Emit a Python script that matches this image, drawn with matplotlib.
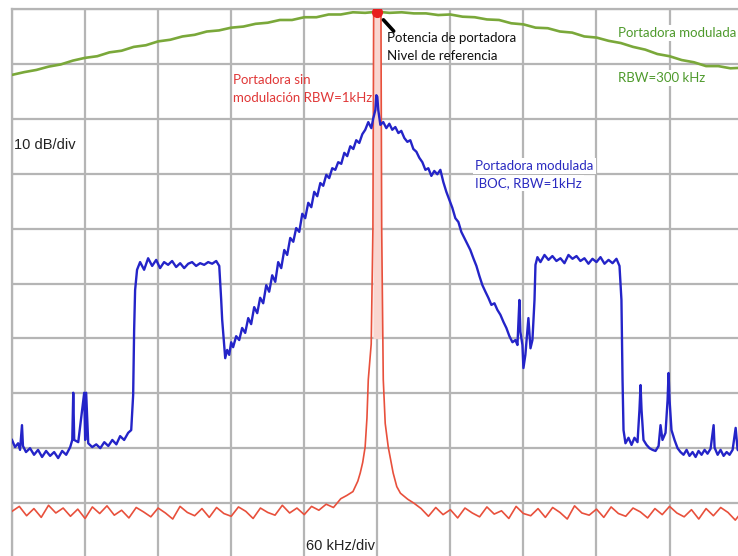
import numpy as np
import matplotlib.pyplot as plt

# Spectrum analyzer capture: 60 kHz/div, 10 dB/div, reference level 0 dB at the top
green_khz = [-300, -290, -280, -270, -260, -250, -240, -230, -220, -210, -200, -190, -180, -170, -160,
             -150, -140, -130, -120, -110, -100, -90, -80, -70, -60, -50, -40, -30, -20, -10, 0,
             10, 20, 30, 40, 50, 60, 70, 80, 90, 100, 110, 120, 130, 140, 150, 160, 170, 180,
             190, 200, 210, 220, 230, 240, 250, 260, 270, 280, 290, 300]
green_db = [-12.0, -11.5, -11.1, -10.5, -10.1, -9.4, -8.9, -8.6, -7.9, -7.6, -6.9, -6.6, -5.9, -5.6, -5.0,
            -4.7, -4.1, -3.9, -3.4, -3.2, -2.7, -2.5, -2.0, -2.0, -1.5, -1.5, -1.0, -1.0, -0.6, -0.7, -0.5,
            -0.7, -0.6, -0.8, -0.8, -1.1, -1.0, -1.4, -1.5, -1.9, -2.0, -2.6, -2.8, -3.4, -3.5, -4.1,
            -4.3, -5.0, -5.2, -5.8, -6.2, -6.9, -7.4, -8.2, -8.6, -9.3, -9.7, -10.4, -10.4, -10.8, -10.7]

red_khz = [-300, -294, -288, -282, -276, -270, -264, -258, -252, -246, -240, -234, -228, -222, -216,
           -210, -204, -198, -192, -186, -180, -174, -168, -162, -156, -150, -144, -138, -132, -126,
           -120, -114, -108, -102, -96, -90, -84, -78, -72, -66, -60, -54, -48, -42, -36,
           -30, -25, -20, -16, -14, -12, -10, -8.5, -7.4, -5, -3.6, -3.0, 0, 3.0, 3.6, 4.9, 6.5,
           9, 13, 16, 19, 25, 30,
           36, 42, 48, 54, 60, 66, 72, 78, 84, 90, 96, 102, 108, 114, 120, 126, 132, 138, 144,
           150, 156, 162, 168, 174, 180, 186, 192, 198, 204, 210, 216, 222, 228, 234, 240, 246,
           252, 258, 264, 270, 276, 282, 288, 294, 300]
red_db = [-91.5, -90.6, -92.3, -91.0, -92.6, -90.4, -91.8, -90.9, -92.4, -91.1, -92.8, -90.7, -91.9, -90.5, -92.2,
          -91.3, -92.7, -90.8, -91.6, -92.5, -90.9, -91.8, -92.9, -90.6, -91.7, -92.3, -91.0, -92.6, -90.8, -91.9,
          -92.4, -90.7, -91.5, -92.8, -90.9, -91.7, -92.2, -90.4, -91.8, -90.9, -92.1, -90.6, -91.3, -90.2, -90.8,
          -89.2, -88.6, -87.9, -86.0, -84.5, -82.6, -79.8, -74.5, -67.5, -61.0, -40.0, -1.0, -0.4, -1.0, -40.0,
          -67.5, -75.5, -79.8, -84.5, -87.0, -88.2, -89.3, -90.0,
          -91.0, -92.4, -90.8, -92.1, -91.2, -92.7, -90.9, -91.8, -92.5, -90.7, -92.0, -91.4, -92.8, -90.6, -91.9,
          -92.3, -91.0, -92.6, -90.8, -91.7, -92.9, -90.5, -91.8, -92.2, -91.1, -92.6, -90.7, -91.9, -92.4, -90.9,
          -91.6, -92.7, -91.0, -92.1, -90.6, -91.8, -92.5, -91.2, -92.9, -91.0, -92.3, -90.8, -91.7, -93.1, -91.4]

blue_khz = [-300, -297.5, -295, -293.4, -291.8, -291, -288.5, -285.2, -281.9, -278.6, -275.3, -272, -268.7,
            -265.4, -262.1, -258.8, -255.5, -252.2, -250.5, -249.7, -248.9, -245.6, -240.7, -239.9, -239.1,
            -237.4, -234.1, -230.8, -227.5, -224.2, -220.9, -217.6, -214.3, -211.2, -207.9, -204.6, -202.1,
            -200.5, -199.7, -198.9, -197.3,
            -194.8, -191.5, -188.2, -184.9, -181.6, -178.4, -175.1, -171.8, -168.5, -165.2, -161.9, -158.6,
            -155.3, -152.1, -148.8, -145.5, -142.2, -138.9, -135.6, -132.3, -129.8, -128.2, -127.4, -125.8,
            -124.9, -123.3, -121.6, -120, -118.4, -115.9, -113.4, -111, -108.5, -106, -103.6, -101.1, -98.6,
            -96.2, -93.7, -91.2, -88.8, -86.3, -83.8, -81.4, -78.9, -76.4, -74, -71.5, -69, -66.6, -64.1,
            -61.6, -59.2, -56.7, -54.2, -51.8, -49.3, -46.8, -44.4, -41.9, -39.5, -37, -34.5, -32.1, -29.6,
            -27.1, -24.7, -22.2, -19.7, -17.3, -14.8, -12.3, -9.9, -7.4, -4.9, -3.3, -1.6, -0.8, 0, 0.8,
            2.5, 4.9, 7.4, 9.9, 12.3, 14.8, 17.3, 19.7, 22.2, 24.7, 27.1, 29.6, 32.1, 34.5, 37, 39.5, 41.9,
            44.4, 46.8, 49.3, 51.8, 54.2, 56.7, 59.2, 61.6, 64.1, 66.6, 69, 71.5, 74, 76.4, 78.9, 81.4,
            83.8, 86.3, 88.8, 91.2, 93.7, 96.2, 98.6, 101.1, 103.6, 106, 108.5, 111, 113.4, 115.1, 116.7,
            117.5, 119.2, 120, 121.6, 123.3, 124.1, 125.8, 127.4, 129.1, 129.9, 131.5,
            134, 137.3, 140.6, 143.8, 147.1, 150.4, 153.7, 157, 160.3, 163.6, 166.8, 170.1, 173.4, 176.7,
            180, 183.3, 186.6, 189.9, 193.2, 196.4, 198.9, 200.5, 201.4, 202.2, 203.8, 206.3, 208.8, 211.2,
            213.7, 215.3, 216.2, 217, 218.6, 221.1, 223.6, 226, 228.5, 231, 232.6, 234.2, 236.7, 238.4,
            239.2, 240, 241.6, 244.1, 246.6, 249, 251.5, 254, 256.4, 258.9, 261.4, 263.8, 266.3, 268.8,
            271.2, 273.7, 276.2, 277, 279.5, 281.9, 284.4, 286.9, 289.3, 291.8, 294.3, 295.9, 298.4]
blue_db = [-78.5, -79.8, -79.1, -80.3, -75.8, -79.6, -80.7, -80.0, -81.2, -80.3, -81.6, -80.5, -81.4,
           -80.7, -81.8, -80.5, -81.2, -79.8, -78.5, -69.9, -78.5, -78.9, -69.9, -78.5, -69.9,
           -79.1, -79.8, -79.3, -80.0, -78.9, -79.6, -78.5, -79.3, -77.8, -78.5, -77.2, -76.7,
           -70.3, -58.5, -51.2, -47.5,
           -46.1, -47.5, -45.4, -46.8, -45.7, -47.2, -46.1, -46.6, -45.9, -47.0, -46.3, -47.2,
           -46.4, -46.1, -46.8, -46.3, -46.6, -46.1, -46.4, -45.9, -46.8, -53.0, -56.6, -61.2,
           -63.6, -62.1, -63.0, -60.7, -61.6, -59.6, -60.3, -58.1, -59.0, -56.3, -57.4, -54.3, -55.4,
           -52.6, -53.6, -50.3, -51.5, -48.5, -49.7, -46.1, -47.2, -43.9, -44.8, -41.7, -42.4, -39.9, -40.6,
           -37.3, -38.1, -35.3, -36.1, -33.3, -34.1, -31.7, -32.2, -30.2, -30.8, -29.0, -29.3, -27.9, -28.2,
           -26.2, -26.8, -25.0, -25.5, -23.9, -24.4, -22.8, -22.0, -20.6, -21.7, -19.9, -18.4, -15.7, -16.0, -18.4,
           -21.1, -20.6, -21.7, -20.9, -22.0, -21.5, -22.6, -22.2, -23.5, -24.2, -23.9, -25.5, -26.0, -27.1, -27.9, -29.3, -29.0,
           -30.4, -29.5, -30.1, -29.3, -31.5, -33.3, -34.8, -36.2, -38.1, -38.8, -40.6, -41.7, -42.8, -43.9, -45.4, -46.8,
           -48.6, -50.3, -51.5, -52.6, -53.9, -53.6, -54.8, -55.7, -57.0, -58.1, -59.6, -60.7, -60.3, -61.2, -53.0,
           -58.8, -61.2, -65.4, -63.0, -58.5, -56.3, -61.8, -60.3, -53.0, -46.6, -45.2,
           -46.1, -44.8, -45.7, -45.0, -45.9, -45.4, -46.3, -44.8, -45.5, -45.0, -45.9, -45.4, -46.4, -45.5,
           -46.1, -45.2, -46.4, -45.7, -46.3, -45.5, -46.8, -53.0, -67.6, -76.7, -79.1, -78.1, -79.4, -78.1,
           -78.9, -73.0, -68.5, -73.0, -78.5, -79.4, -80.0, -80.3, -80.5, -79.6, -75.8, -78.5, -77.2, -71.2,
           -66.3, -71.2, -76.7, -78.5, -80.0, -80.7, -81.2, -80.3, -81.4, -80.7, -81.6, -80.5, -81.2, -80.3,
           -81.0, -80.1, -75.8, -79.9, -81.2, -80.3, -81.4, -80.7, -81.2, -80.3, -76.3, -80.3, -80.7]

carrier_khz = 0
carrier_db = -0.6

W, H = 738, 556
fig = plt.figure(figsize=(W / 100, H / 100), dpi=100)
ax = fig.add_axes([12 / W, 1 - 558 / H, 730.6 / W, 549 / H])

grid_c = '#b5b5b5'
ax.set_xlim(-300, 300)
ax.set_ylim(-100, 0)
ax.set_xticks(np.arange(-300, 301, 60))
ax.set_yticks(np.arange(-100, 1, 10))
ax.set_axisbelow(True)
ax.grid(True, color=grid_c, linewidth=1.6)
ax.tick_params(length=0, labelbottom=False, labelleft=False)
for side in ['left', 'top']:
    ax.spines[side].set_color(grid_c)
    ax.spines[side].set_linewidth(1.6)
for side in ['right', 'bottom']:
    ax.spines[side].set_visible(False)

ax.plot(green_khz, green_db, color='#7aa83a', linewidth=1.9, zorder=3)
red_db_arr = np.array(red_db)
ax.fill_between(red_khz, red_db, -60, where=red_db_arr > -61, color='#f9d6d0', linewidth=0, zorder=2.5)
ax.plot(red_khz, red_db, color='#e8503c', linewidth=1.2, zorder=3)
ax.plot(blue_khz, blue_db, color='#2424c8', linewidth=1.7, zorder=4)

ax.plot([carrier_khz], [carrier_db], 'o', color='#e81e1e', markersize=7, zorder=6)
ax.annotate('', xy=(3.5, -1.6), xytext=(15, -4.4),
            arrowprops=dict(arrowstyle='-', lw=2.6, color='black'), zorder=6)

lab = dict(family=['Lato', 'DejaVu Sans'], fontsize=9.5, va='center', ha='left')
ax.text(8.2, -5.3, 'Potencia de portadora', color='#111111', **lab)
ax.text(8.2, -8.6, 'Nivel de referencia', color='#111111', **lab)
ax.text(-118.4, -12.9, 'Portadora sin', color='#e03838', **lab)
ax.text(-118.4, -16.2, 'modulación RBW=1kHz', color='#e03838', **lab)

box = dict(facecolor='white', edgecolor='none', pad=1.5)
ax.text(80.5, -28.6, 'Portadora modulada', color='#2a2ac0', bbox=box, zorder=3.5, **lab)
ax.text(80.5, -31.7, 'IBOC, RBW=1kHz', color='#2a2ac0', bbox=box, zorder=3.5, **lab)
ax.text(197.3, -4.4, 'Portadora modulada', color='#4e9a2c', bbox=box, zorder=2.8, **lab)
ax.text(197.3, -12.6, 'RBW=300 kHz', color='#4e9a2c', bbox=box, zorder=2.8, **lab)

ax.text(-298.4, -24.8, '10 dB/div', family='Liberation Sans', fontsize=10.5,
        va='center', ha='left', color='#222222')
ax.text(-58.4, -97.8, '60 kHz/div', family='Liberation Sans', fontsize=10.5,
        va='center', ha='left', color='#222222')

fig.savefig('out.png', dpi=100)
